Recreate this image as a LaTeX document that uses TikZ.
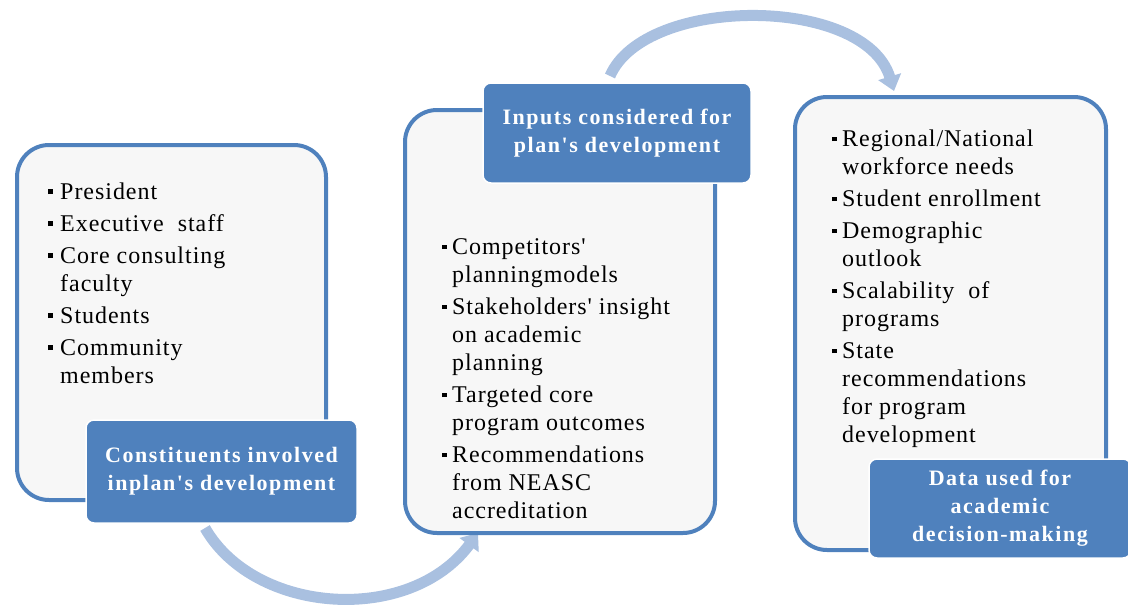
\documentclass[tikz,border=0pt]{standalone}
\usepackage{fontspec}
\usetikzlibrary{arrows.meta}
\newfontfamily\bodyfont[LetterSpace=4.0]{Liberation Serif}
\newfontfamily\labfont[LetterSpace=7.0]{Liberation Serif}
\definecolor{bordblue}{HTML}{4F81BD}
\definecolor{arrblue}{HTML}{A9C0E0}
\definecolor{boxfill}{HTML}{F7F7F7}
\newcommand\bulA{\makebox[12pt][l]{\rule[5pt]{5pt}{5pt}}}
\newcommand\bulB{\makebox[10pt][l]{\rule[5pt]{4.5pt}{4.5pt}}}
\newcommand\indA{\hspace*{12pt}}
\newcommand\indB{\hspace*{10pt}}
\tikzset{
  panel/.style={draw=bordblue, line width=4pt, fill=boxfill, rounded corners=32pt, inner sep=0pt},
  tag/.style={draw=white, line width=1.5pt, fill=bordblue, rounded corners=8pt, inner sep=0pt,
    text=white, align=center, font={\labfont\bfseries\fontsize{22}{28}\selectfont}},
  listtext/.style={anchor=base west, inner sep=0pt, align=left, text=black,
    font={\bodyfont\fontsize{24}{28}\selectfont}},
  cyclearrow/.style={draw=arrblue, line width=11pt, -{Triangle[width=23pt,length=15pt]}}
}
\begin{document}
\begin{tikzpicture}[x=1pt,y=-1pt]
\useasboundingbox (0,0) rectangle (1128,611);
% arrow end points
\coordinate (a1s) at (205,528);
\coordinate (a1e) at (478,533);
\coordinate (a2s) at (610,76);
\coordinate (a2e) at (894,91);
\draw[cyclearrow] (a1s) .. controls (255,615) and (410,625) .. (a1e);
\draw[cyclearrow] (a2s) .. controls (645,-5) and (865,-5) .. (a2e);
% panels
\node[panel, minimum width=309pt, minimum height=355pt] (box1) at (171.5,322.5) {};
\node[panel, minimum width=310pt, minimum height=423pt] (box2) at (560,321.5) {};
\node[panel, minimum width=311pt, minimum height=453pt] (box3) at (950.5,323.5) {};
% lists (anchored at the baseline of their last line)
\node[listtext] (list1) at (48,383) {\bulA President\\[4pt]
\bulA Executive\ \ staff\\[4pt]
\bulA Core consulting\\
\indA faculty\\[4pt]
\bulA Students\\[4pt]
\bulA Community\\
\indA members};
\node[listtext] (list2) at (442,518) {\bulB Competitors'\\
\indB planningmodels\\[4pt]
\bulB Stakeholders' insight\\
\indB on academic\\
\indB planning\\[4pt]
\bulB Targeted core\\
\indB program outcomes\\[4pt]
\bulB Recommendations\\
\indB from NEASC\\
\indB accreditation};
\node[listtext] (list3) at (832,442) {\bulB Regional/National\\
\indB workforce needs\\[4pt]
\bulB Student enrollment\\[4pt]
\bulB Demographic\\
\indB outlook\\[4pt]
\bulB Scalability\ \ of\\
\indB programs\\[4pt]
\bulB State\\
\indB recommendations\\
\indB for program\\
\indB development};
% labels
\node[tag, minimum width=271pt, minimum height=103pt] (lab1) at (221.5,471.5) {Constituents involved\\inplan's development};
\node[tag, minimum width=268pt, minimum height=100pt] (lab2) at (617,133) {Inputs considered for\\plan's development};
\node[tag, minimum width=262pt, minimum height=99pt] (lab3) at (1000,508.5) {Data used for\\academic\\decision-making};
\end{tikzpicture}
\end{document}
